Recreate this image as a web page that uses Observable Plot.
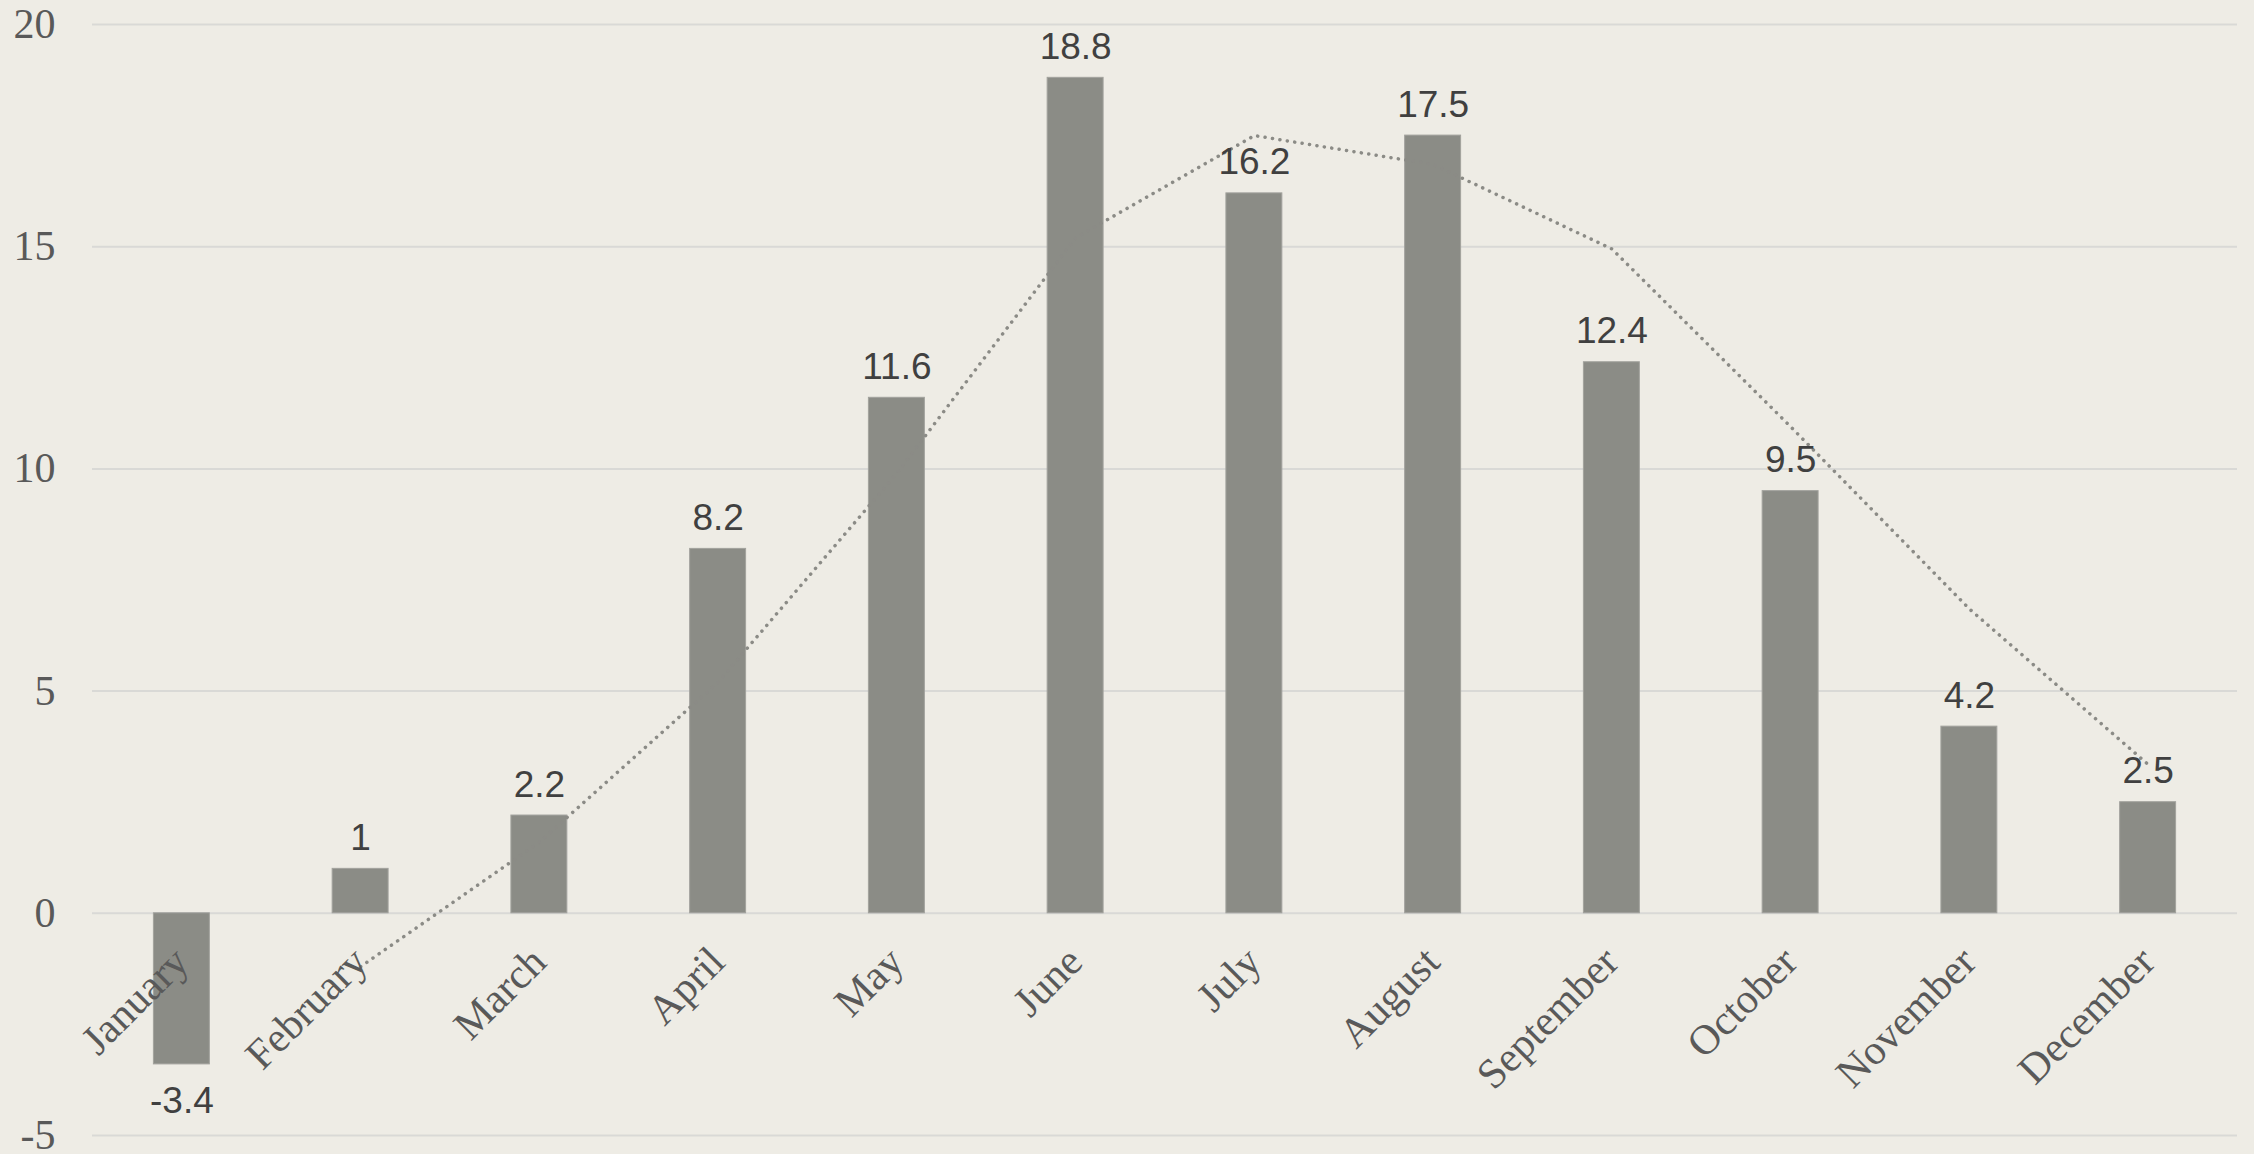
<!DOCTYPE html>
<html>
<head>
<meta charset="utf-8">
<script src="https://cdn.jsdelivr.net/npm/d3@7"></script>
<script src="https://cdn.jsdelivr.net/npm/@observablehq/plot@0.6"></script>
<style>
  html, body { margin: 0; padding: 0; background: #EEECE5; }
  #chart svg { display: block; }
</style>
</head>
<body>
<div id="chart"></div>
<script>
const months = ["January","February","March","April","May","June","July","August","September","October","November","December"];
const values = [-3.4, 1, 2.2, 8.2, 11.6, 18.8, 16.2, 17.5, 12.4, 9.5, 4.2, 2.5];
// 2-period moving average trend line (February–December)
const trendMonths = months.slice(1);
const trendValues = [-1.2, 1.6, 5.2, 9.9, 15.2, 17.5, 16.85, 14.95, 10.95, 6.85, 3.35];
const yTicks = [-5, 0, 5, 10, 15, 20];

const bars = months.map((m, i) => ({month: m, value: values[i]}));
const trend = trendMonths.map((m, i) => ({month: m, value: trendValues[i]}));

const chart = Plot.plot({
  width: 2254,
  height: 1154,
  marginTop: 24,
  marginBottom: 19,
  marginLeft: 92,
  marginRight: 17,
  style: {background: "transparent", overflow: "visible"},
  x: {domain: months, paddingInner: 0.687, paddingOuter: 0.3435, round: false, axis: null},
  y: {domain: [-5, 20], ticks: yTicks, axis: null},
  marks: [
    Plot.gridY(yTicks, {stroke: "#D9D9D6", strokeOpacity: 1, strokeWidth: 2}),
    Plot.axisY(yTicks, {
      tickSize: 0, tickPadding: 37,
      fontSize: 42, fontFamily: "Liberation Serif", fill: "#595959",
      tickFormat: d => String(d), label: null
    }),
    Plot.barY(bars, {x: "month", y: "value", fill: "#8B8C86", stroke: "#A2A29D", strokeWidth: 1}),
    Plot.line(trend, {
      x: "month", y: "value", stroke: "#8B8B86", strokeWidth: 3.5,
      strokeDasharray: "0.1 7.4", strokeLinecap: "round"
    }),
    Plot.text(bars.filter(d => d.value >= 0), {
      x: "month", y: "value", text: d => String(d.value),
      lineAnchor: "bottom", dy: -19,
      fontSize: 37, fontFamily: "Liberation Sans", fill: "#404040"
    }),
    Plot.text(bars.filter(d => d.value < 0), {
      x: "month", y: "value", text: d => String(d.value),
      lineAnchor: "top", dy: 22,
      fontSize: 37, fontFamily: "Liberation Sans", fill: "#404040"
    }),
    Plot.text(months, {
      x: d => d, y: d => 0, text: d => d,
      rotate: -45, textAnchor: "end", lineAnchor: "bottom",
      dx: 9, dy: 51,
      fontSize: 42, fontFamily: "Liberation Serif", fill: "#595959"
    })
  ]
});
document.getElementById("chart").appendChild(chart);
</script>
</body>
</html>
